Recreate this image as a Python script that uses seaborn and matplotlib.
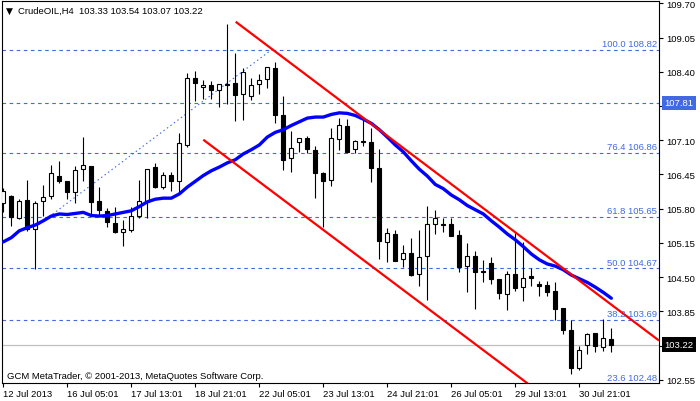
import matplotlib
matplotlib.use("Agg")
import matplotlib.pyplot as plt
import matplotlib.transforms as mtransforms
import numpy as np
import pandas as pd
import seaborn as sns

# ---------------- data ----------------
opens = [105.90, 106.04, 105.62, 105.97, 105.42, 105.94, 106.04, 106.42, 106.33, 106.11,
         106.55, 106.61, 105.95, 105.75, 105.53, 105.35, 105.40, 105.67, 105.93, 106.59,
         106.22, 106.44, 106.33, 107.01, 108.28, 108.11, 108.14, 108.05, 108.16, 108.18,
         107.97, 107.94, 108.16, 108.26, 108.47, 107.57, 106.76, 107.06, 107.14, 106.91,
         106.48, 106.35, 107.12, 107.37, 106.93, 107.09, 107.07, 106.57, 105.16, 105.32,
         104.85, 104.96, 104.56, 104.90, 105.51, 105.51, 105.51, 105.30, 104.72, 104.90,
         104.62, 104.77, 104.47, 104.18, 104.56, 104.31, 104.52, 104.37, 104.35, 104.23,
         103.91, 103.50, 102.77, 103.21, 103.44, 103.17, 103.33]
highs = [106.19, 106.06, 105.98, 106.35, 105.94, 106.25, 106.63, 106.71, 106.33, 106.62,
         107.16, 106.61, 106.21, 105.81, 105.83, 105.59, 105.83, 106.35, 106.56, 106.67,
         106.50, 106.50, 107.24, 108.38, 108.41, 108.24, 108.23, 108.17, 109.31, 108.75,
         108.47, 108.28, 108.36, 108.50, 108.58, 107.94, 107.27, 107.15, 107.18, 106.99,
         106.50, 107.33, 107.52, 107.50, 107.11, 107.49, 107.33, 106.93, 105.43, 105.40,
         105.11, 105.25, 105.40, 105.85, 105.78, 105.62, 105.62, 105.40, 105.15, 104.99,
         104.83, 104.88, 104.47, 104.62, 105.33, 105.16, 104.67, 104.43, 104.43, 104.40,
         103.91, 103.68, 103.20, 103.44, 103.44, 103.71, 103.54]
lows = [105.74, 105.48, 105.61, 105.38, 104.66, 105.67, 105.99, 106.28, 105.99, 105.90,
        106.32, 105.67, 105.67, 105.45, 105.33, 105.10, 105.35, 105.63, 105.63, 106.19,
        106.18, 106.14, 106.12, 106.98, 107.84, 107.88, 107.88, 107.73, 107.78, 107.47,
        107.49, 107.87, 107.97, 108.09, 107.42, 106.54, 106.49, 106.88, 106.85, 106.00,
        105.45, 106.24, 106.92, 106.85, 106.86, 106.99, 106.31, 104.85, 104.78, 104.81,
        104.70, 104.53, 104.33, 104.07, 105.31, 105.35, 105.29, 104.59, 104.21, 103.90,
        104.40, 104.37, 104.09, 103.87, 104.24, 104.05, 104.33, 104.15, 104.15, 103.68,
        103.42, 102.66, 102.73, 103.04, 103.08, 103.09, 103.07]
closes = [106.14, 105.64, 105.95, 105.42, 105.90, 106.02, 106.47, 106.33, 106.11, 106.54,
          106.63, 105.93, 105.78, 105.54, 105.35, 105.42, 105.66, 105.95, 106.55, 106.22,
          106.44, 106.33, 107.04, 108.28, 108.19, 108.14, 108.06, 108.16, 108.14, 107.95,
          108.39, 108.14, 108.24, 108.49, 107.57, 106.73, 106.95, 107.14, 106.93, 106.47,
          106.33, 107.14, 107.39, 106.88, 107.08, 107.06, 106.57, 105.18, 105.33, 104.81,
          104.96, 104.55, 104.88, 105.51, 105.62, 105.49, 105.29, 104.70, 104.90, 104.59,
          104.60, 104.47, 104.20, 104.56, 104.30, 104.48, 104.49, 104.34, 104.21, 103.89,
          103.50, 102.77, 103.11, 103.42, 103.19, 103.34, 103.22]
ma_values = [105.17, 105.25, 105.38, 105.44, 105.49, 105.57, 105.66, 105.70, 105.69, 105.71,
             105.73, 105.67, 105.66, 105.67, 105.70, 105.73, 105.76, 105.84, 105.93, 105.98,
             106.00, 106.00, 106.08, 106.21, 106.32, 106.43, 106.52, 106.59, 106.67, 106.73,
             106.84, 106.92, 107.01, 107.16, 107.25, 107.30, 107.38, 107.45, 107.52, 107.54,
             107.54, 107.59, 107.62, 107.61, 107.57, 107.50, 107.42, 107.30, 107.16, 107.01,
             106.88, 106.71, 106.55, 106.42, 106.26, 106.18, 106.06, 105.97, 105.86, 105.78,
             105.70, 105.57, 105.45, 105.32, 105.21, 105.08, 104.94, 104.83, 104.75, 104.71,
             104.64, 104.54, 104.47, 104.40, 104.31, 104.21, 104.10]

x_tick_bars = [0, 8, 16, 24, 32, 40, 48, 56, 64, 72]
x_tick_labels = ["12 Jul 2013", "16 Jul 05:01", "17 Jul 13:01", "18 Jul 21:01",
                 "22 Jul 05:01", "23 Jul 13:01", "24 Jul 21:01", "26 Jul 05:01",
                 "29 Jul 13:01", "30 Jul 21:01"]
y_ticks = [109.70, 109.05, 108.40, 107.75, 107.10, 106.45, 105.80, 105.15,
           104.50, 103.85, 103.20, 102.55]
y_ticks_hidden = [107.75, 103.20]   # covered by the price boxes in the reference

fib_levels = ["100.0", "76.4", "61.8", "50.0", "38.2", "23.6"]
fib_prices = [108.82, 106.86, 105.65, 104.67, 103.69, 102.48]
fib_base_bars = [4.0, 33.55]
fib_base_prices = [105.45, 108.82]
hline_price = 107.81
bid_price = 103.22

upper_channel_bars = [29.05, 82.1]
upper_channel_prices = [109.35, 103.28]
lower_channel_bars = [25.0, 65.2]
lower_channel_prices = [107.11, 102.52]

title_text = "CrudeOIL,H4  103.33 103.54 103.07 103.22"
footer_text = "GCM MetaTrader, \u00a9 2001-2013, MetaQuotes Software Corp."

# ---------------- style ----------------
sns.set_style("white")
plt.rcParams['font.family'] = ['Liberation Sans', 'DejaVu Sans']
FS = 6.8
FIB_BLUE = "#4169E1"

W, H = 700, 402
fig = plt.figure(figsize=(W / 100, H / 100), dpi=100)
fig.patch.set_facecolor("white")
ax = fig.add_axes([2 / W, (H - 384) / H, (659 - 2) / W, (384 - 2) / H])
ax.set_facecolor("white")

ax.set_xlim(-0.16, 81.96)
ax.set_ylim(102.49, 109.744)

df = pd.DataFrame(dict(i=np.arange(len(opens)), open=opens, high=highs,
                       low=lows, close=closes, ma=ma_values))
up = df["close"] >= df["open"]
body_lo = np.minimum(df["open"], df["close"])
body_h = (df["close"] - df["open"]).abs().clip(lower=0.004)

# horizontal level lines
for p in fib_prices:
    ax.axhline(p, color=FIB_BLUE, lw=0.8, dashes=(3.2, 3.2), zorder=1)
ax.axhline(hline_price, color=FIB_BLUE, lw=0.8, dashes=(3.2, 3.2), zorder=1)
ax.axhline(bid_price, color="#c0c0c0", lw=0.9, zorder=1)

# fibonacci base line (dotted)
ax.plot(fib_base_bars, fib_base_prices, color=FIB_BLUE, lw=0.8, dashes=(1.3, 2.6), zorder=1.5)

# candles
ax.vlines(df["i"], df["low"], df["high"], color="black", lw=0.8, zorder=3)
ax.bar(df["i"][up], body_h[up], bottom=body_lo[up], width=0.5, color="white",
       edgecolor="black", linewidth=0.8, zorder=4)
ax.bar(df["i"][~up], body_h[~up], bottom=body_lo[~up], width=0.5, color="black",
       edgecolor="black", linewidth=0.8, zorder=4)

# moving average
sns.lineplot(data=df, x="i", y="ma", color="#0000ff", lw=2.4, ax=ax, zorder=5,
             legend=False)

# channel lines (rays to the right edge)
x_right = ax.get_xlim()[1]
for bx, by in [(upper_channel_bars, upper_channel_prices),
               (lower_channel_bars, lower_channel_prices)]:
    slope = (by[1] - by[0]) / (bx[1] - bx[0])
    xs = [bx[0], x_right]
    ys = [by[0], by[0] + slope * (x_right - bx[0])]
    ax.plot(xs, ys, color="#ff0000", lw=1.6, zorder=6, solid_capstyle="butt")

# fib labels
trans = mtransforms.blended_transform_factory(ax.transAxes, ax.transData)
for lv, p in zip(fib_levels, fib_prices):
    ax.annotate(f"{lv} {p:.2f}", xy=(1, p), xycoords=trans, xytext=(-1.5, 1.2),
                textcoords="offset points", ha="right", va="bottom",
                color=FIB_BLUE, fontsize=FS, zorder=7)

# axes styling
ax.set_xlabel("")
ax.set_ylabel("")
ax.yaxis.tick_right()
ax.set_yticks(y_ticks)
ax.set_yticklabels(["" if v in y_ticks_hidden else f"{v:.2f}" for v in y_ticks])
ax.set_xticks(x_tick_bars)
ax.set_xticklabels(x_tick_labels, ha="left")
ax.tick_params(axis="both", which="both", direction="out", length=3, width=0.8,
               colors="black", labelsize=FS)
ax.tick_params(axis="y", pad=2.5, right=True, left=False)
ax.tick_params(axis="x", pad=1.5, bottom=True)
for s in ax.spines.values():
    s.set_visible(True)
    s.set_color("black")
    s.set_linewidth(0.8)

# price boxes on the right axis
ax.annotate(f"{hline_price:.2f}", xy=(1, hline_price), xycoords=trans,
            xytext=(4.0, 0), textcoords="offset points", ha="left", va="center",
            color="white", fontsize=FS, annotation_clip=False, zorder=10,
            bbox=dict(boxstyle="square,pad=0.28", fc=FIB_BLUE, ec="none"))
ax.annotate(f"{bid_price:.2f}", xy=(1, bid_price), xycoords=trans,
            xytext=(4.0, 0), textcoords="offset points", ha="left", va="center",
            color="white", fontsize=FS, annotation_clip=False, zorder=10,
            bbox=dict(boxstyle="square,pad=0.28", fc="black", ec="none"))

# header / footer texts
fig.text(6 / W, 1 - 11 / H, "\u25bc", fontsize=6.5, color="black", va="center", ha="left",
         family=['DejaVu Sans'])
fig.text(18 / W, 1 - 11 / H, title_text, fontsize=FS, color="black", va="center", ha="left")
fig.text(7 / W, 1 - 377 / H, footer_text, fontsize=FS, color="black", va="center", ha="left")

fig.savefig("out.png", dpi=100, facecolor="white")
